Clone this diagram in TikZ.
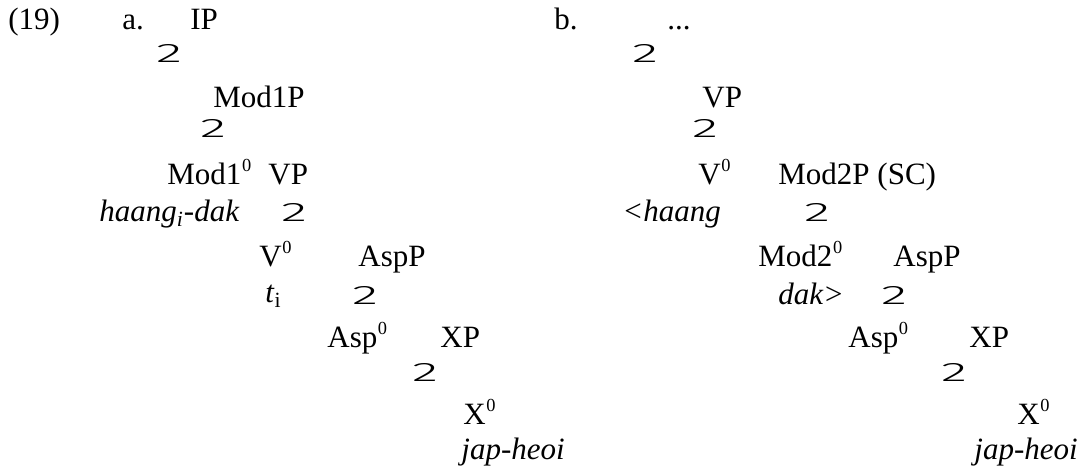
\documentclass[tikz,border=0pt]{standalone}
\usepackage{fontspec}
\setmainfont{Liberation Serif}
\newfontfamily\brfont{Fira Sans Light}
\newcommand\brglyph{\scalebox{1.75}[0.86]{\brfont\fontsize{15.5}{18}\selectfont 2}}
\newcommand\zsup{\kern0.3pt\raisebox{6.8pt}{\fontsize{9.2}{9}\selectfont 0}}
\tikzset{
  lbl/.style={anchor=base west, inner sep=0pt, font=\fontsize{15.5}{18}\selectfont},
  br/.style={anchor=south, inner sep=0pt}
}
\begin{document}
\begin{tikzpicture}[x=0.5pt,y=-0.5pt]
\fill[white] (0,0) rectangle (1078,469);
% labels
\node[lbl] (ex) at (8,30) {(19)};
\node[lbl] (a) at (122,30) {a.};
\node[lbl] (b) at (554,30) {b.};
% tree a
\node[lbl] (aIP) at (190,30) {IP};
\node[br] (aB1) at (169,63) {\brglyph};
\node[lbl] (aMod1P) at (213,108) {Mod1P};
\node[br] (aB2) at (213,138) {\brglyph};
\node[lbl] (aMod1) at (167,185) {Mod1\zsup};
\node[lbl] (aVP) at (268,185) {VP};
\node[lbl] (aHaang) at (99,222) {\textit{haang\textsubscript{i}-dak}};
\node[br] (aB3) at (294,222) {\brglyph};
\node[lbl] (aV) at (259,267) {V\zsup};
\node[lbl] (aAspP) at (358,267) {AspP};
\node[lbl] (aT) at (265,303) {\textit{t}\textsubscript{i}};
\node[br] (aB4) at (365,305) {\brglyph};
\node[lbl] (aAsp) at (327,348) {Asp\zsup};
\node[lbl] (aXP) at (440,348) {XP};
\node[br] (aB5) at (425,382) {\brglyph};
\node[lbl] (aX) at (463,425) {X\zsup};
\node[lbl] (aJap) at (461,460) {\textit{jap-heoi}};
% tree b
\node[lbl] (bDots) at (667,30) {...};
\node[br] (bB1) at (645,63) {\brglyph};
\node[lbl] (bVP) at (702,108) {VP};
\node[br] (bB2) at (705,138) {\brglyph};
\node[lbl] (bV) at (698,185) {V\zsup};
\node[lbl] (bMod2P) at (778,185) {Mod2P (SC)};
\node[lbl] (bHaang) at (622,222) {\textit{<haang}};
\node[br] (bB3) at (817,222) {\brglyph};
\node[lbl] (bMod2) at (758,267) {Mod2\zsup};
\node[lbl] (bAspP) at (893,267) {AspP};
\node[lbl] (bDak) at (778,305) {\textit{dak>}};
\node[br] (bB4) at (894,305) {\brglyph};
\node[lbl] (bAsp) at (848,348) {Asp\zsup};
\node[lbl] (bXP) at (969,348) {XP};
\node[br] (bB5) at (954,382) {\brglyph};
\node[lbl] (bX) at (1017,425) {X\zsup};
\node[lbl] (bJap) at (974,460) {\textit{jap-heoi}};
\end{tikzpicture}
\end{document}
